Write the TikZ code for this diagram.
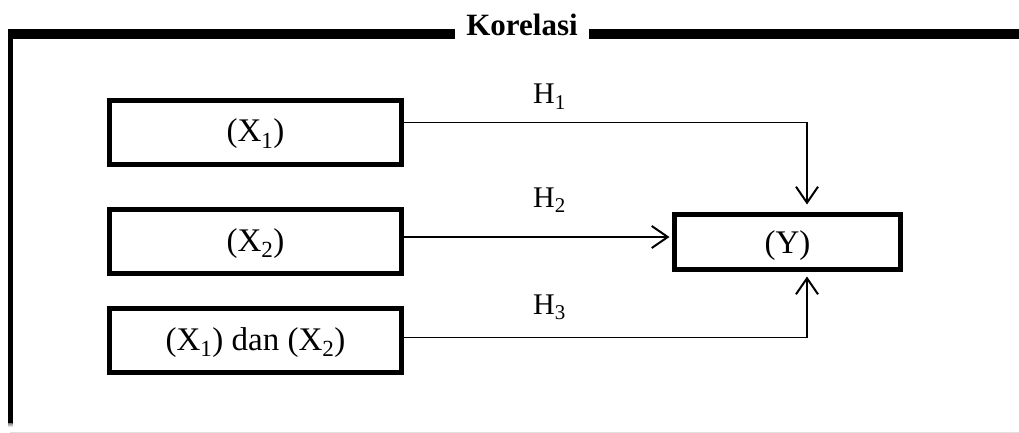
\documentclass[tikz,border=0pt]{standalone}
\usepackage{fontspec}
\setmainfont{Liberation Serif}
\usetikzlibrary{arrows.meta}
\definecolor{shade}{HTML}{A6A6A6}
\definecolor{rule}{HTML}{E0E0E0}
\tikzset{
  boxfont/.style={font=\fontsize{33}{40}\selectfont},
  labelfont/.style={font=\fontsize{30}{36}\selectfont},
  varbox/.style={draw, line width=5pt, inner sep=0pt, minimum width=292pt,
    minimum height=64pt, text height=41.5pt, text depth=22.5pt, boxfont},
  resbox/.style={draw, line width=5pt, inner sep=0pt, minimum width=226pt,
    minimum height=55pt, text height=39pt, text depth=16pt, boxfont},
  link/.style={line width=1.5pt,
    -{Straight Barb[length=16pt,width=22pt,line width=2pt]}},
  hlabel/.style={anchor=base west, inner sep=0pt, labelfont},
  frameline/.style={line width=5.4pt},
  shadeline/.style={line width=4.3pt, shade},
}
\begin{document}
\begin{tikzpicture}[x=1pt,y=-1pt]
  \useasboundingbox (0,0) rectangle (1019,433);

  % title
  \node[anchor=base, inner sep=0pt, font=\bfseries\fontsize{31}{36}\selectfont]
    (title) at (522,36) {Korelasi};

  % frame: shaded top rule, black top rule, left rule, faint bottom rule
  \draw[shadeline] (10,37.2) -- (455,37.2) (589,37.2) -- (1019,37.2);
  \draw[frameline] (8,32.2) -- (455,32.2) (589,32.2) -- (1019,32.2);
  \draw[line width=4.7pt] (10.3,29.5) -- (10.3,423);
  \fill[shade] (8,423) rectangle (12.7,427);
  \draw[line width=1.3pt, rule] (10,432.3) -- (1019,432.3);

  % variables
  \node[varbox] (x1) at (255.5,132.5) {(X\textsubscript{1})};
  \node[varbox] (x2) at (255.5,241.5) {(X\textsubscript{2})};
  \node[varbox] (x3) at (255.5,340.5) {(X\textsubscript{1}) dan (X\textsubscript{2})};
  \node[resbox] (y) at (787.5,241.5) {(Y)};

  % hypotheses
  \draw[link] ([yshift=9.8pt]x1.east) -| ([xshift=19.5pt,yshift=7pt]y.north);
  \draw[link] ([yshift=4.5pt]x2.east) -- ([xshift=-2.5pt,yshift=4.5pt]y.west);
  \draw[link] ([yshift=2.8pt]x3.east) -| ([xshift=19.5pt,yshift=-5pt]y.south);

  \node[hlabel] (h1) at (533,104) {H\textsubscript{1}};
  \node[hlabel] (h2) at (533,207.5) {H\textsubscript{2}};
  \node[hlabel] (h3) at (533,314) {H\textsubscript{3}};
\end{tikzpicture}
\end{document}
